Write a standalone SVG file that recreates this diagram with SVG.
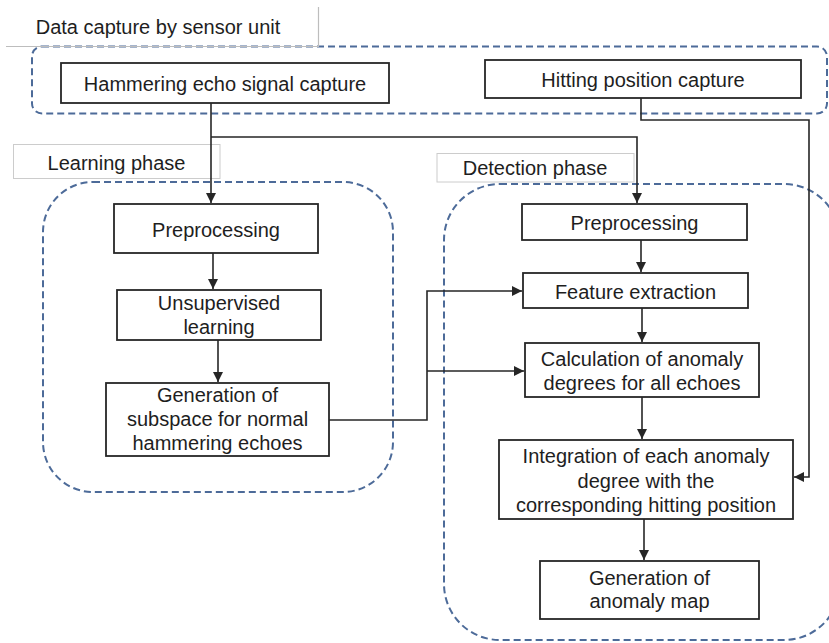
<svg xmlns="http://www.w3.org/2000/svg" width="829" height="643" viewBox="0 0 829 643">
  <style>
    text { font-family: "Liberation Sans", Arial, sans-serif; font-size: 20px; fill: #1e1e1e; text-anchor: middle; }
    .region { fill: none; stroke: #4d6b99; stroke-width: 2; stroke-dasharray: 7 4; }
    .label { fill: #ffffff; stroke: #cccccc; stroke-width: 1; }
    .box { fill: #ffffff; stroke: #262626; stroke-width: 1.8; }
    .conn { fill: none; stroke: #262626; stroke-width: 1.6; }
  </style>
  <defs>
    <marker id="arrow" markerUnits="userSpaceOnUse" markerWidth="10" markerHeight="10" refX="10" refY="5" orient="auto">
      <path d="M0,0 L10,5 L0,10 z" fill="#262626"/>
    </marker>
  </defs>
  <rect width="829" height="643" fill="#ffffff"/>

  <!-- regions -->
  <g id="region-sensor">
    <rect class="region" x="32" y="46.5" width="795" height="67" rx="10"/>
    <path d="M6,46.5 H318.5 V7" fill="none" stroke="#bdbdbd" stroke-width="1.2"/>
    <text x="158" y="34">Data capture by sensor unit</text>
  </g>
  <g id="region-learning">
    <rect class="region" x="43" y="182" width="350" height="310" rx="50"/>
    <rect class="label" x="13.5" y="144.5" width="206.5" height="34"/>
    <text x="116.5" y="170">Learning phase</text>
  </g>
  <g id="region-detection">
    <rect class="region" x="444" y="184" width="396" height="456" rx="56"/>
    <rect class="label" x="437" y="153.5" width="197" height="28.5"/>
    <text x="535" y="175">Detection phase</text>
  </g>

  <!-- connectors -->
  <g id="connectors">
    <path class="conn" d="M211,103 V203" marker-end="url(#arrow)"/>
    <path class="conn" d="M211,137 H637 V203" marker-end="url(#arrow)"/>
    <path class="conn" d="M641,98 V120 H809 V477 H794" marker-end="url(#arrow)"/>
    <path class="conn" d="M213,253 V289" marker-end="url(#arrow)"/>
    <path class="conn" d="M218,340 V382" marker-end="url(#arrow)"/>
    <path class="conn" d="M329,420 H427 V291 H522" marker-end="url(#arrow)"/>
    <path class="conn" d="M427,371 H524" marker-end="url(#arrow)"/>
    <path class="conn" d="M641,240 V272" marker-end="url(#arrow)"/>
    <path class="conn" d="M642,308 V342" marker-end="url(#arrow)"/>
    <path class="conn" d="M642,397 V439" marker-end="url(#arrow)"/>
    <path class="conn" d="M644,519 V560" marker-end="url(#arrow)"/>
  </g>

  <!-- nodes -->
  <g id="hammering-capture">
    <rect class="box" x="61" y="63" width="328" height="40"/>
    <text x="225" y="90.5">Hammering echo signal capture</text>
  </g>
  <g id="hitting-capture">
    <rect class="box" x="485" y="60" width="316" height="38"/>
    <text x="643" y="86.5">Hitting position capture</text>
  </g>
  <g id="learn-preprocessing">
    <rect class="box" x="114" y="204" width="204" height="49"/>
    <text x="216" y="236.5">Preprocessing</text>
  </g>
  <g id="unsupervised-learning">
    <rect class="box" x="117" y="290" width="204" height="50"/>
    <text x="219" y="310">Unsupervised</text>
    <text x="219" y="333.5">learning</text>
  </g>
  <g id="subspace-generation">
    <rect class="box" x="106" y="383" width="223" height="73"/>
    <text x="217.5" y="402">Generation of</text>
    <text x="217.5" y="426">subspace for normal</text>
    <text x="217.5" y="450">hammering echoes</text>
  </g>
  <g id="detect-preprocessing">
    <rect class="box" x="522" y="204" width="225" height="36"/>
    <text x="634.5" y="230">Preprocessing</text>
  </g>
  <g id="feature-extraction">
    <rect class="box" x="523" y="273" width="225" height="35"/>
    <text x="635.5" y="299">Feature extraction</text>
  </g>
  <g id="anomaly-calculation">
    <rect class="box" x="525" y="343" width="234" height="54"/>
    <text x="642" y="366">Calculation of anomaly</text>
    <text x="642" y="390">degrees for all echoes</text>
  </g>
  <g id="integration">
    <rect class="box" x="499" y="440" width="294" height="79"/>
    <text x="646" y="463">Integration of each anomaly</text>
    <text x="646" y="487.5">degree with the</text>
    <text x="646" y="512">corresponding hitting position</text>
  </g>
  <g id="anomaly-map">
    <rect class="box" x="540" y="561" width="219" height="58"/>
    <text x="649.5" y="585">Generation of</text>
    <text x="649.5" y="608">anomaly map</text>
  </g>
</svg>
